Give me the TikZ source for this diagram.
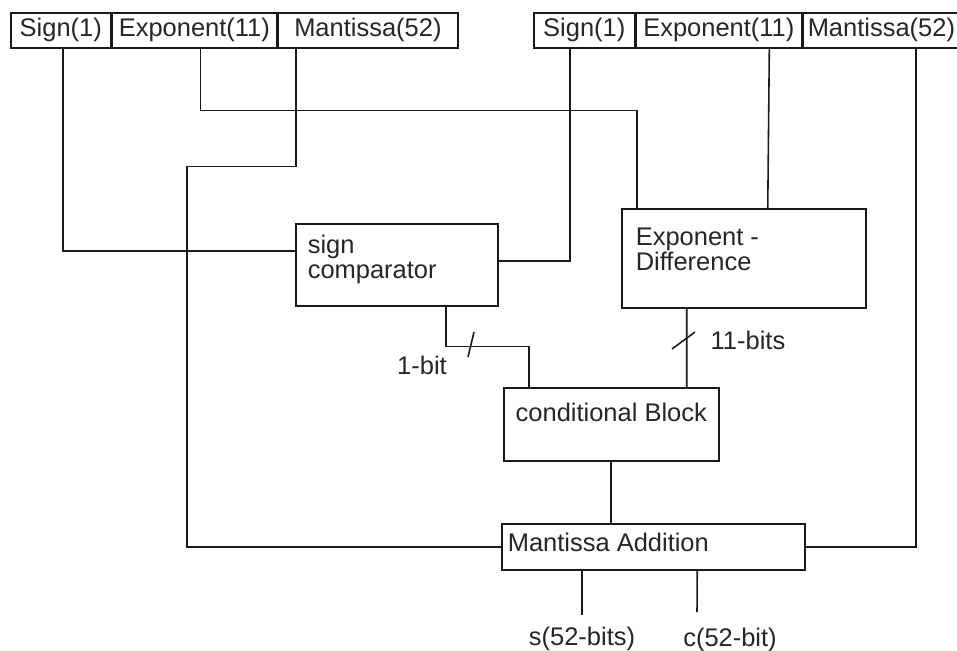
\documentclass[tikz,border=0pt]{standalone}
\usepackage{fontspec}
\setmainfont{Liberation Sans}
\usepackage{xcolor}
\usepackage{tikz}
\definecolor{FPLine}{HTML}{1A1A1A}
\definecolor{FPText}{HTML}{262626}
\tikzset{
  cell/.style={draw=FPLine, anchor=north west, minimum height=0.7cm, inner sep=0pt},
  block/.style={draw=FPLine, anchor=north west},
  outlabel/.style={anchor=north, inner ysep=0.3cm}
}
\begin{document}
\begin{tikzpicture}[x=0.02cm,y=-0.02cm,line width=0.9pt,
  every node/.style={text=FPText, font=\fontsize{14.5pt}{14.2pt}\selectfont}]
\path[use as bounding box] (0,0) rectangle (957,650);
\node[cell, minimum width=2cm] (lsign) at (10,12) {Sign(1)};
\node[cell, minimum width=3.28cm] (lexp) at (lsign.north east) {Exponent(11)};
\node[cell, minimum width=3.6cm] (lman) at (lexp.north east) {Mantissa(52)};
\node[cell, minimum width=2.02cm] (rsign) at (533,12) {Sign(1)};
\node[cell, minimum width=3.3cm] (rexp) at (rsign.north east) {Exponent(11)};
\node[cell, minimum width=3.14cm] (rman) at (rexp.north east) {Mantissa(52)};
\node[block, inner xsep=0.24cm, inner ysep=0.22cm] (signcmp) at (295,223)
  {\parbox[t][1.2cm][t]{3.56cm}{\raggedright sign\\comparator}};
\node[block, inner xsep=0.28cm, inner ysep=0.38cm] (expdiff) at (621,208)
  {\parbox[t][1.22cm][t]{4.32cm}{\raggedright Exponent -\\Difference}};
\node[block, inner xsep=0.2cm, inner ysep=0.3cm] (cond) at (503,387)
  {\parbox[t][0.86cm][t]{3.9cm}{\centering conditional Block}};
\node[block, inner xsep=0.12cm, inner ysep=0.18cm] (madd) at (501,523)
  {\parbox[t][0.56cm][t]{5.82cm}{\raggedright Mantissa Addition}};
\node (onebit) at (422,365) {1-bit};
\node (elevenbits) at (748,340) {11-bits};
\node[outlabel, inner ysep=0.22cm] (sout) at (582,615) {s(52-bits)};
\node[outlabel] (cout) at (730,612) {c(52-bit)};
\draw[FPLine] ([xshift=0.04cm]lsign.south) |- ([yshift=0.28cm]signcmp.west);
\draw[FPLine] ([xshift=0.12cm]lexp.south) -- ++(0,62) -| ([xshift=0.32cm]expdiff.north west);
\draw[FPLine] ([xshift=-1.44cm]lman.south) -- ++(0,118) -- ++(-109,0) |- (madd.west);
\draw[FPLine] ([xshift=-0.29cm]rsign.south) |- ([yshift=0.08cm]signcmp.east);
\draw[FPLine] ([xshift=1.01cm]rexp.south) -- ([xshift=0.48cm]expdiff.north);
\draw[FPLine] ([xshift=0.69cm]rman.south) |- (madd.east);
\draw[FPLine] ([xshift=0.98cm]signcmp.south) -- ++(0,40) -| ([xshift=0.52cm]cond.north west);
\draw[FPLine] (468,357) -- (474,332);
\draw[FPLine] ([xshift=-1.14cm]expdiff.south) -- ([xshift=1.51cm]cond.north);
\draw[FPLine] (672,349) -- (695,332);
\draw[FPLine] (cond.south) -- (cond.south |- madd.north);
\draw[FPLine] (sout.north |- madd.south) -- (sout.north);
\draw[FPLine] ([xshift=0.88cm]madd.south) -- ([xshift=-0.66cm]cout.north);
\end{tikzpicture}
\end{document}
